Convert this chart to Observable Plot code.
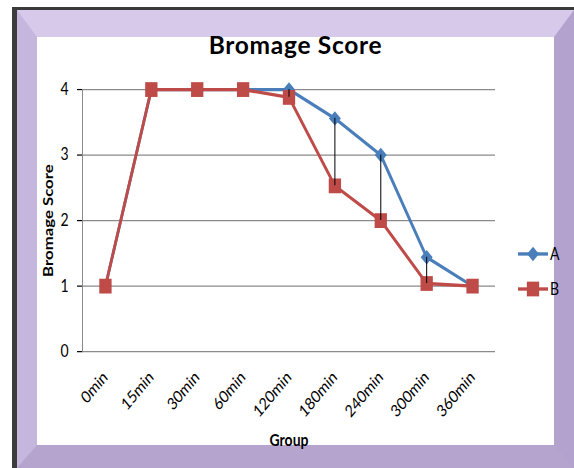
<!DOCTYPE html>
<html><head><meta charset="utf-8">
<script src="https://cdn.jsdelivr.net/npm/d3@7"></script>
<script src="https://cdn.jsdelivr.net/npm/@observablehq/plot@0.6"></script>
<style>
html,body{margin:0;padding:0;background:#fff;width:574px;height:468px;overflow:hidden;font-family:Lato,"Open Sans",sans-serif;}
#frame{position:absolute;left:12px;top:7px;width:562px;height:461px;box-sizing:border-box;border-left:5px solid #3c3c3c;border-top:3px solid #3a3a3a;}
#bevel{position:absolute;left:0;top:0;right:0;bottom:0;box-sizing:border-box;border-style:solid;border-width:27px 20px 23px 20px;border-color:#d6c9ea #b3a2cd #b5a4ce #c5b6de;}
#panel{position:absolute;left:37px;top:37px;width:517px;height:408px;background:#fff;overflow:visible;}
#stretch{position:absolute;left:0;top:0;width:517px;height:340px;transform:scaleY(1.2);transform-origin:0 0;}
#title{position:absolute;left:0;top:-3.7px;width:517px;text-align:center;font:bold 24.5px/24.5px Lato,sans-serif;letter-spacing:0.7px;color:#000;}
#chart{position:absolute;left:0;top:0;}
#legend{position:absolute;left:478px;top:170px;}
</style></head>
<body>
<div id="frame"><div id="bevel"></div></div>
<div id="panel">
  <div id="stretch">
    <div id="chart"></div>
    <div id="legend"></div>
  </div>
  <div id="title">Bromage Score</div>
</div>
<script>
const groups = ["0min","15min","30min","60min","120min","180min","240min","300min","360min"];
const seriesA = [1, 4, 4, 4, 4, 3.56, 3.0, 1.44, 1.0];
const seriesB = [1, 4, 4, 4, 3.88, 2.53, 2.0, 1.04, 1.0];
const seriesNames = ["A", "B"];
const yTicks = [0, 1, 2, 3, 4];

const colorA = "#4a7ebb", colorB = "#be4b48";

const diamond = {
  draw(context, size) {
    const h = Math.sqrt(size / 2);
    context.moveTo(0, -h); context.lineTo(h, 0); context.lineTo(0, h); context.lineTo(-h, 0); context.closePath();
  }
};

const rowsA = groups.map((g, i) => ({group: g, value: seriesA[i]}));
const rowsB = groups.map((g, i) => ({group: g, value: seriesB[i]}));
const bars = groups.map((g, i) => ({group: g, lo: Math.min(seriesA[i], seriesB[i]), hi: Math.max(seriesA[i], seriesB[i])}));

const plot = Plot.plot({
  width: 517, height: 340,
  marginLeft: 45, marginRight: 59, marginTop: 43.3, marginBottom: 78.3,
  style: {fontFamily: "Lato, sans-serif", fontSize: "14px", color: "#000", background: "transparent", overflow: "visible"},
  x: {type: "point", domain: groups, padding: 0.5, round: false, tickRotate: -45, tickSize: 0, tickPadding: 19, label: null},
  y: {domain: [0, 4], ticks: yTicks, tickSize: 5, tickPadding: 9, label: null, tickFormat: d3.format("d")},
  marks: [
    Plot.ruleY(yTicks, {y: d => d, stroke: "#8a8a8a", strokeWidth: 1, strokeOpacity: 1}),
    Plot.frame({anchor: "left", stroke: "#8a8a8a"}),
    Plot.line(rowsA, {x: "group", y: "value", stroke: colorA, strokeWidth: 2.8}),
    Plot.dot(rowsA, {x: "group", y: "value", symbol: diamond, r: 4.8, fill: colorA, stroke: "none"}),
    Plot.line(rowsB, {x: "group", y: "value", stroke: colorB, strokeWidth: 2.8}),
    Plot.dot(rowsB, {x: "group", y: "value", symbol: "square", r: 6.95, fill: colorB, stroke: "none"}),
    Plot.ruleX(bars, {x: "group", y1: "lo", y2: "hi", stroke: "#000", strokeWidth: 1}),
    Plot.text(["Bromage Score"], {frameAnchor: "left", dx: -34, rotate: -90, textAnchor: "middle", lineAnchor: "middle", fontWeight: "bold", fontSize: 14}),
    Plot.text(["Group"], {frameAnchor: "bottom", dy: 74, textAnchor: "middle", lineAnchor: "middle", fontWeight: "bold", fontSize: 14})
  ]
});
document.getElementById("chart").appendChild(plot);

// legend
const lg = d3.select("#legend").append("svg").attr("width", 39).attr("height", 52)
  .style("overflow", "visible").style("font-family", "Lato, sans-serif").style("font-size", "14px");
const legendItems = [
  {name: seriesNames[0], color: colorA, sym: diamond, size: 2 * 6 * 6},
  {name: seriesNames[1], color: colorB, sym: d3.symbolSquare, size: 12.3 * 12.3}
];
legendItems.forEach((it, i) => {
  const y = 10.8 + i * 29.2;
  lg.append("line").attr("x1", 3).attr("x2", 33).attr("y1", y).attr("y2", y).attr("stroke", it.color).attr("stroke-width", 2.8);
  lg.append("path").attr("d", d3.symbol(it.sym, it.size)()).attr("transform", `translate(18,${y})`).attr("fill", it.color);
  lg.append("text").attr("x", 35).attr("y", y).attr("dy", "0.35em").text(it.name);
});
</script>
</body></html>
